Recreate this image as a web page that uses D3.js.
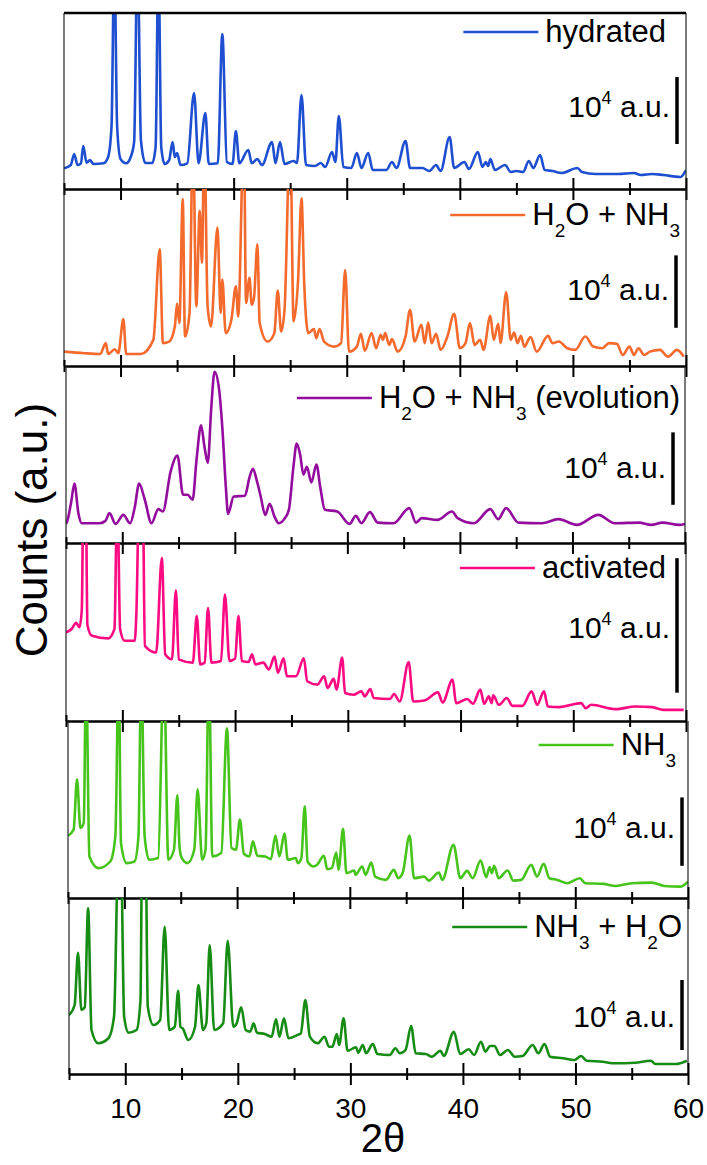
<!DOCTYPE html>
<html>
<head>
<meta charset="utf-8">
<script src="https://cdn.jsdelivr.net/npm/d3@7"></script>
<style>
    body { margin: 0; background: #fff; }
    svg { display: block; }
    text { font-family: "Liberation Sans", Arial, sans-serif; fill: #000; }
</style>
</head>
<body>
<div id="chart"></div>
<script>
const width = 707,
    height = 1165;

// XRD patterns, [2theta, intensity in a.u.]
const hydrated = [[5.0,20.7],[5.6,24],[5.9,35],[6.2,24],[6.5,25.7],[6.7,43],[7.0,26.3],[7.3,29],[7.6,25],[8.5,25.7],[8.9,32],[9.2,62],[9.45,230],[9.7,62],[10.0,30],[10.5,25.7],[10.9,32],[11.2,47],[11.5,240],[11.8,49],[12.2,26],[12.8,26],[13.1,42],[13.35,230],[13.6,42],[13.9,25],[14.3,29],[14.6,47],[14.8,32],[15.0,36],[15.3,24],[15.9,25.7],[16.5,96],[16.9,25.7],[17.5,76],[17.8,25],[18.6,25.7],[19.0,155],[19.4,27],[19.9,25],[20.2,58],[20.5,25.7],[21.3,39],[21.6,25.7],[22.1,30],[22.5,24],[23.4,47],[23.7,25.7],[24.1,47],[24.5,25],[25.3,28],[25.6,26],[26.0,94],[26.4,24],[27.2,23],[27.7,26],[28.1,22],[28.7,37],[29.0,27],[29.3,73],[29.7,22],[30.4,21],[30.9,36],[31.3,21],[31.9,36],[32.3,19],[33.5,19],[34.0,27],[34.4,21],[35.2,48],[35.6,21],[36.7,21],[37.3,18],[37.9,24],[38.3,18],[39.1,52],[39.5,21],[40.4,27],[40.8,20],[41.6,37],[42.0,22],[42.3,27],[42.5,23],[42.7,30],[43.1,19],[44.0,24],[44.5,17],[45.0,18],[45.6,17],[46.1,28],[46.5,21],[47.1,34],[47.5,19],[48.2,18],[49.0,16],[50.4,21],[50.8,17],[52.0,15],[54.0,15],[55.4,16],[56.0,14],[57.0,15],[58.0,14],[59.5,12],[60.0,19]];

const h2oNh3 = [[5.0,14.3],[6.8,12.7],[8.2,12],[8.7,22.7],[8.9,12],[9.5,16.7],[9.8,12.7],[10.25,46.7],[10.5,12],[11.8,12],[12.9,26],[13.46,116],[13.75,22.7],[14.3,24.3],[14.8,39.3],[15.0,62],[15.2,42.7],[15.5,166],[15.7,29.3],[16.1,52.7],[16.4,230],[16.7,59.3],[17.0,154.3],[17.2,102.7],[17.4,230],[17.7,59.3],[18.0,39.3],[18.57,137.7],[18.85,52.7],[19.0,86],[19.3,32.7],[19.8,46],[20.2,79.3],[20.4,49.3],[20.9,230],[21.1,62.7],[21.4,87.7],[21.6,61],[21.8,67.7],[22.1,121],[22.3,42.7],[23.0,24.3],[23.6,32.7],[23.9,75],[24.2,34.3],[24.5,56],[25.0,230],[25.3,44.3],[25.7,86],[26.0,166.7],[26.25,79.3],[26.6,32.7],[27.1,36.7],[27.3,27.7],[27.6,36.7],[28.0,24.3],[28.9,19.3],[29.5,22.7],[29.86,95.3],[30.2,14.3],[30.9,19.3],[31.25,32],[31.6,15.3],[32.2,32.7],[32.6,17.7],[33.0,31],[33.2,26],[33.4,32.7],[33.75,21],[34.0,26.7],[34.5,14.3],[35.2,29.3],[35.6,56],[36.0,24.3],[36.6,41],[36.9,22.7],[37.2,43.3],[37.5,22.7],[37.9,32],[38.3,16],[38.9,29.3],[39.5,52],[40.0,17.7],[40.5,22.7],[40.9,42.7],[41.3,21],[41.8,26],[42.1,16],[42.7,50],[43.0,26],[43.4,42],[43.6,22.7],[44.1,73.3],[44.5,26],[44.8,33.3],[45.1,22.7],[45.4,30],[45.7,19.3],[46.25,28.7],[46.8,14.3],[47.8,30],[48.2,22.7],[48.75,24.3],[49.5,17.7],[50.2,16],[51.1,29.3],[51.8,19.3],[52.6,17.7],[53.2,22.7],[53.9,22],[54.4,11],[55.0,19.3],[55.4,11],[55.8,17.7],[56.3,11],[56.8,14.3],[57.7,16],[58.4,9.3],[59.2,16],[59.8,9.3]];

const evolution = [[5.0,19],[5.1,21.3],[5.45,40],[5.75,59],[6.1,29.7],[6.4,19.7],[8.0,19.7],[8.5,22],[8.86,29.7],[9.4,19],[10.1,28],[10.7,19.7],[11.1,35],[11.5,59],[12.0,43],[12.6,19.7],[13.2,33.7],[13.6,31.3],[14.3,71.3],[14.9,87],[15.4,48],[15.8,48],[16.25,43],[16.6,83],[17.0,117],[17.3,96],[17.6,79.7],[17.9,133],[18.2,170.3],[18.6,153],[18.9,113],[19.2,56],[19.4,29],[19.9,46.3],[20.9,47],[21.3,65],[21.6,73.7],[22.0,60],[22.3,46.3],[22.7,28],[23.1,39],[23.5,27],[23.9,19.7],[24.4,24],[24.8,33],[25.2,75],[25.5,99],[25.8,88],[26.1,68],[26.4,75.7],[26.8,60.3],[27.25,78],[27.6,55],[28.0,33],[29.1,31.3],[30.2,19],[30.75,27],[31.25,19.7],[32.0,30.7],[32.7,20.3],[34.1,19.7],[35.5,34.7],[36.1,20.3],[36.6,24.7],[38.0,23],[39.3,31.3],[39.8,24.7],[41.25,19.7],[42.7,33.7],[43.4,23.7],[44.1,34.7],[45.2,20.3],[47.3,19.7],[48.75,23.7],[50.4,18],[52.3,28],[53.75,19.7],[55.9,20.3],[57.0,18],[58.0,20.3],[59.5,18],[60.0,19]];

const activated = [[5.0,87.7],[5.5,91],[5.9,97],[6.2,92.7],[6.4,110],[6.55,230],[6.75,230],[6.9,95],[7.3,84.3],[8.75,81.7],[9.3,91],[9.55,230],[9.8,91],[10.2,79.3],[11.1,79.3],[11.25,109.3],[11.5,230],[11.8,230],[12.0,74.3],[13.0,67.7],[13.5,161],[13.8,66],[14.4,61],[14.75,129.3],[15.0,61],[16.25,57.7],[16.6,103.7],[16.9,56],[17.3,57.7],[17.6,111.7],[17.9,57.7],[18.75,59.3],[19.1,125],[19.5,59.3],[20.0,61.7],[20.3,103.7],[20.6,59.3],[21.2,58.3],[21.5,66],[21.8,56],[22.5,57.7],[23.0,51],[23.5,63.7],[23.8,47.7],[24.3,62],[24.6,44.3],[25.4,44.3],[26.1,62],[26.4,39.3],[27.3,36],[27.9,44.3],[28.2,32.7],[28.75,41.7],[29.0,31],[29.5,62.7],[29.75,27.7],[30.5,26],[31.2,29.3],[31.5,24.3],[32.0,31.7],[32.3,22.7],[33.75,21.7],[34.1,26.7],[34.6,19.3],[35.4,58.3],[35.8,19.3],[36.8,20.3],[38.0,28.3],[38.4,18.3],[39.3,41],[39.6,17.7],[40.6,21.7],[41.1,17],[41.75,31],[42.1,17],[42.5,24.3],[42.75,17.7],[42.9,25.3],[43.4,16],[44.1,22.7],[44.6,15],[45.5,15],[46.3,29.3],[46.8,16],[47.4,29.3],[47.75,14.3],[48.75,13.7],[50.7,17.7],[51.1,12.7],[51.6,16],[53.75,11.7],[55.5,14.3],[57.0,13.7],[58.0,11],[59.8,11]];

const nh3 = [[5.0,62],[5.5,68],[5.8,118],[6.1,69.7],[6.4,74.7],[6.6,230],[6.9,41.3],[7.7,29.7],[8.75,36.3],[9.2,61.3],[9.5,230],[9.7,54.7],[10.2,34.7],[10.9,36.3],[11.25,61.3],[11.5,230],[11.8,61.3],[12.2,38],[13.0,39.7],[13.5,230],[13.9,38],[14.4,48],[14.7,102],[14.9,49.7],[15.1,39.7],[15.6,34.7],[16.2,48],[16.5,108],[16.9,38],[17.2,48],[17.5,230],[17.8,41.3],[18.6,44.7],[19.1,168.7],[19.5,49.7],[19.9,48],[20.25,78],[20.6,44],[21.1,41.3],[21.4,56.3],[21.8,42],[22.5,41.3],[23.0,38.7],[23.4,62],[23.75,41.3],[24.2,64],[24.5,38],[25.2,39.7],[25.4,34.7],[25.7,39.7],[26.0,91.3],[26.25,36.3],[26.8,31.3],[27.1,33],[27.7,42],[28.0,28.7],[28.4,29.7],[28.8,45.3],[29.0,28],[29.4,68.7],[29.7,24.7],[30.4,27.3],[30.5,23],[31.1,31.3],[31.4,23],[31.9,35.3],[32.25,21.3],[33.2,18],[33.9,28],[34.3,19.7],[34.7,25.3],[35.3,62],[35.7,19.7],[36.6,21.3],[37.0,17.3],[37.9,25.3],[38.2,18],[39.2,53],[39.8,19.7],[40.4,27],[40.9,19.7],[41.6,37.3],[42.1,20.7],[42.4,30.7],[42.6,24.7],[42.8,32],[43.2,19.7],[44.0,27.3],[44.5,17.3],[45.2,18],[46.1,33],[46.6,21.3],[47.2,34],[47.7,19.7],[48.4,18],[49.3,14.7],[50.4,19.7],[50.9,14.7],[52.5,14],[53.6,12],[55.0,14.7],[56.8,15.3],[57.9,12],[59.3,11.3],[60.0,16.3]];

const nh3H2o = [[5.0,59],[5.5,69],[5.8,121.3],[6.1,64],[6.4,66.7],[6.7,165.7],[7.0,44],[7.6,30.7],[8.5,35.7],[9.0,57.3],[9.4,230],[9.6,230],[9.9,57.3],[10.3,41.3],[11.0,44],[11.35,74],[11.5,230],[11.8,230],[12.0,67.3],[12.5,49],[13.1,54],[13.5,147.3],[13.9,44],[14.4,47.3],[14.7,83.3],[14.9,47.3],[15.1,45.7],[15.6,34],[16.2,47.3],[16.5,89],[16.9,44],[17.2,50.7],[17.5,129],[17.9,44],[18.7,50.7],[19.1,133.3],[19.6,47.3],[19.9,50.7],[20.3,66.7],[20.7,44],[21.1,42.3],[21.4,50.7],[21.7,41.3],[22.4,40],[23.0,37.3],[23.4,54.7],[23.7,37.3],[24.1,55.7],[24.5,35.7],[25.3,39],[25.6,40.7],[26.0,74],[26.4,37.3],[27.1,30.7],[27.7,37.3],[28.1,27.3],[28.4,27.3],[28.8,40],[29.0,29],[29.4,55.7],[29.75,23.3],[30.5,26.7],[30.7,21.3],[31.1,29],[31.4,20.7],[32.0,30],[32.4,20],[33.5,19],[34.0,25.7],[34.4,20.7],[34.9,24],[35.4,48],[35.8,20.7],[36.7,20],[37.25,17.3],[38.0,23.3],[38.3,18],[39.2,42.3],[39.75,20],[40.5,24.7],[41.0,19],[41.6,32.3],[42.0,22.3],[42.4,28],[42.8,28],[43.3,19],[44.0,24],[44.6,17.3],[45.3,18],[46.2,29],[46.7,20.7],[47.25,30],[47.75,17.3],[48.9,15.7],[49.9,14],[50.5,18],[51.0,13.3],[52.4,12.3],[53.5,10.7],[55.3,11.3],[56.7,13.3],[57.1,10],[58.9,10],[59.9,13.3]];

const patterns = [hydrated, h2oNh3, evolution, activated, nh3, nh3H2o];
// labels: "_n" marks a subscript digit
const seriesLabels = ["hydrated", "H_2O + NH_3", "H_2O + NH_3 (evolution)", "activated", "NH_3", "NH_3 + H_2O"];
const seriesColors = ["#1f4fd1", "#f4692c", "#930c9e", "#fc0a82", "#46c41c", "#168c14"];
// length of the 10^4 a.u. scale bar in each panel, same units as the patterns
const scaleBarValues = [67, 72, 72, 133, 68, 70];

const xDomain = [5, 60];
const yDomain = [0, 176];
const majorTicks = [10, 20, 30, 40, 50, 60];
const minorTicks = [5, 15, 25, 35, 45, 55];

// panel boxes (px); the figure's panels are not perfectly aligned
const panels = [
    { left: 64, right: 686, top: 13, bottom: 189, legendEnd: 666, legendBase: 42, barX: 677, barBase: 45, barTextBase: 117 },
    { left: 64, right: 686, top: 189, bottom: 366, legendEnd: 680, legendBase: 225, barX: 676, barBase: 38, barTextBase: 300 },
    { left: 66, right: 685, top: 366, bottom: 543, legendEnd: 680, legendBase: 408, barX: 673, barBase: 38, barTextBase: 478 },
    { left: 66, right: 686, top: 543, bottom: 721, legendEnd: 666, legendBase: 578, barX: 677, barBase: 28, barTextBase: 638 },
    { left: 68, right: 688, top: 721, bottom: 898, legendEnd: 676, legendBase: 755, barX: 682, barBase: 32, barTextBase: 838 },
    { left: 69, right: 688, top: 898, bottom: 1074, legendEnd: 682, legendBase: 937, barX: 682, barBase: 24, barTextBase: 1027 }
];

const svg = d3.select("#chart")
    .append("svg")
    .attr("width", width)
    .attr("height", height);

function addLabel(textSel, label) {
    // split "H_2O + NH_3" into normal / subscript runs
    const parts = label.split(/_(\d)/);
    let shifted = false;
    parts.forEach((part, i) => {
        if (part === "") return;
        const sub = i % 2 === 1;
        const t = textSel.append("tspan").text(part);
        if (sub) {
            t.attr("font-size", 19).attr("dy", 12);
            shifted = true;
        } else if (shifted) {
            t.attr("dy", -12);
            shifted = false;
        }
    });
}

panels.forEach((p, i) => {
    const x = d3.scaleLinear().domain(xDomain).range([p.left, p.right]);
    const y = d3.scaleLinear().domain(yDomain).range([p.bottom, p.top]);
    const g = svg.append("g");

    const clipId = "clip" + i;
    svg.append("clipPath").attr("id", clipId)
        .append("rect")
        .attr("x", p.left).attr("y", p.top)
        .attr("width", p.right - p.left).attr("height", p.bottom - p.top);

    const line = d3.line()
        .x(d => x(d[0]))
        .y(d => y(d[1]))
        .curve(d3.curveMonotoneX);

    g.append("path")
        .datum(patterns[i])
        .attr("clip-path", `url(#${clipId})`)
        .attr("fill", "none")
        .attr("stroke", seriesColors[i])
        .attr("stroke-width", 2.6)
        .attr("stroke-linejoin", "round")
        .attr("d", line);

    // side borders
    g.selectAll("line.side")
        .data([p.left, p.right])
        .join("line")
        .attr("x1", d => d).attr("x2", d => d)
        .attr("y1", p.top).attr("y2", p.bottom)
        .attr("stroke", "#222")
        .attr("stroke-width", 1.2);

    if (i === 0) {
        g.append("line")
            .attr("x1", p.left).attr("x2", p.right)
            .attr("y1", p.top).attr("y2", p.top)
            .attr("stroke", "#000")
            .attr("stroke-width", 2.5);
    }

    // bottom axis: ticks cross the line
    const major = g.append("g")
        .attr("transform", `translate(0,${p.bottom})`)
        .call(d3.axisBottom(x).tickValues(majorTicks).tickSizeOuter(0).tickSizeInner(11).tickPadding(12)
            .tickFormat(i === panels.length - 1 ? d3.format("d") : ""));
    major.select(".domain").attr("stroke", "#000").attr("stroke-width", 2.5);
    major.selectAll(".tick line").attr("y1", -11).attr("y2", 11).attr("stroke-width", 2);
    major.selectAll(".tick text")
        .attr("font-size", 28)
        .attr("font-family", "Liberation Sans, Arial, sans-serif")
        .attr("dy", "0.75em");

    const minor = g.append("g")
        .attr("transform", `translate(0,${p.bottom})`)
        .call(d3.axisBottom(x).tickValues(minorTicks).tickSize(6).tickFormat(""));
    minor.select(".domain").remove();
    minor.selectAll(".tick line").attr("y1", -6).attr("y2", 6).attr("stroke-width", 2);

    // legend
    const legendText = g.append("text")
        .attr("x", p.legendEnd)
        .attr("y", p.legendBase)
        .attr("text-anchor", "end")
        .attr("font-size", 31);
    addLabel(legendText, seriesLabels[i]);
    const start = legendText.node().getBBox().x;
    g.append("line")
        .attr("x1", start - 82).attr("x2", start - 7)
        .attr("y1", p.legendBase - 10).attr("y2", p.legendBase - 10)
        .attr("stroke", seriesColors[i])
        .attr("stroke-width", 2.6);

    // scale bar of 10^4 a.u.
    g.append("line")
        .attr("x1", p.barX).attr("x2", p.barX)
        .attr("y1", y(p.barBase)).attr("y2", y(p.barBase + scaleBarValues[i]))
        .attr("stroke", "#000")
        .attr("stroke-width", 3.5);
    const barText = g.append("text")
        .attr("x", p.barX - 7)
        .attr("y", p.barTextBase)
        .attr("text-anchor", "end")
        .attr("font-size", 30);
    barText.append("tspan").text("10");
    barText.append("tspan").attr("font-size", 18).attr("dy", -13).text("4");
    barText.append("tspan").attr("dy", 13).text("\u00a0a.u.");
});

svg.append("text")
    .attr("transform", "translate(47,530) rotate(-90)")
    .attr("text-anchor", "middle")
    .attr("font-size", 44)
    .text("Counts (a.u.)");

svg.append("text")
    .attr("x", 383)
    .attr("y", 1152)
    .attr("text-anchor", "middle")
    .attr("font-size", 40)
    .text("2\u03b8");
</script>
</body>
</html>
